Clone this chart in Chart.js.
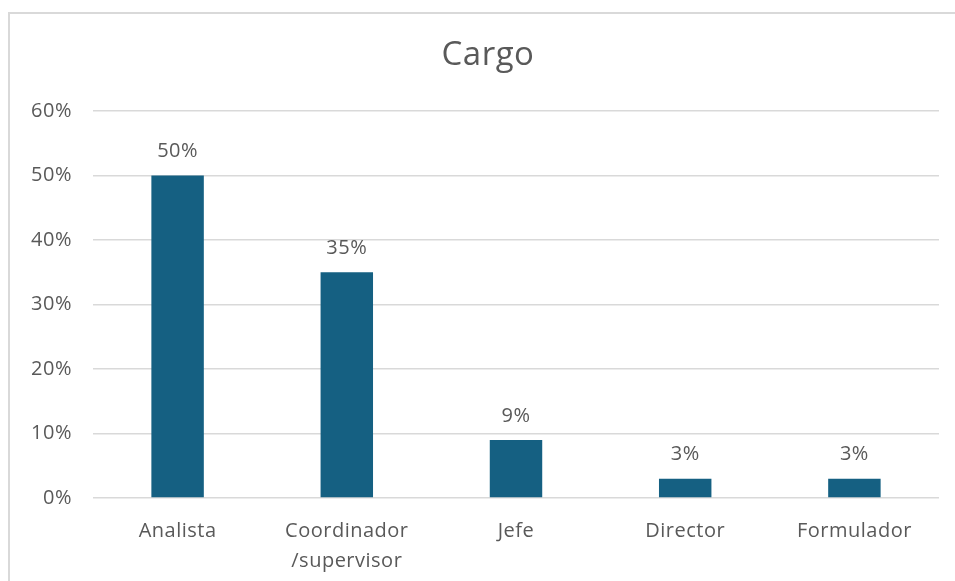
<!DOCTYPE html>
<html lang="es">
<head>
<meta charset="utf-8">
<title>Cargo</title>
<script src="https://cdn.jsdelivr.net/npm/chart.js@4/dist/chart.umd.min.js"></script>
<style>
  html, body { margin: 0; padding: 0; background: #ffffff; }
  body { width: 955px; height: 581px; position: relative; overflow: hidden; }
  .frame {
    position: absolute; left: 8px; top: 12px;
    width: 1000px; height: 620px;
    border: 2px solid #d9d9d9; box-sizing: border-box;
  }
  #chart { position: absolute; left: 0; top: 0; }
</style>
</head>
<body>
<div class="frame"></div>
<canvas id="chart" width="955" height="581"></canvas>
<script>
// Distribución por cargo (porcentaje de encuestados)
const categories = ['Analista', ['Coordinador', '/supervisor'], 'Jefe', 'Director', 'Formulador'];
const shares = [50, 35, 9, 3, 3];
const yTicks = [0, 10, 20, 30, 40, 50, 60];
const chartTitle = 'Cargo';

const TEXT = '#595959';
const GRID = '#d9d9d9';
const BAR = '#156082';
const FONT = '"Open Sans", "Liberation Sans", sans-serif';

// Espaciado de letras algo más abierto para todos los textos
const spacing = {
  id: 'spacing',
  beforeLayout(chart) { chart.ctx.letterSpacing = '0.5px'; },
  beforeDraw(chart) { chart.ctx.letterSpacing = '0.5px'; }
};

// Título centrado sobre el marco completo del gráfico
const frameTitle = {
  id: 'frameTitle',
  afterDraw(chart) {
    const ctx = chart.ctx;
    ctx.save();
    ctx.font = '33px ' + FONT;
    ctx.fillStyle = TEXT;
    ctx.textAlign = 'center';
    ctx.textBaseline = 'middle';
    ctx.fillText(chartTitle, 488, 56);
    ctx.restore();
  }
};

// Etiqueta de valor encima de cada barra
const valueLabels = {
  id: 'valueLabels',
  afterDatasetsDraw(chart) {
    const ctx = chart.ctx;
    const meta = chart.getDatasetMeta(0);
    ctx.save();
    ctx.font = '20px ' + FONT;
    ctx.fillStyle = TEXT;
    ctx.textAlign = 'center';
    ctx.textBaseline = 'middle';
    meta.data.forEach((bar, i) => {
      ctx.fillText(shares[i] + '%', bar.x, bar.y - 24);
    });
    ctx.restore();
  }
};

new Chart(document.getElementById('chart'), {
  type: 'bar',
  data: {
    labels: categories,
    datasets: [{
      data: shares,
      backgroundColor: BAR,
      borderWidth: 0,
      barPercentage: 0.31,
      categoryPercentage: 1.0
    }]
  },
  options: {
    responsive: false,
    animation: false,
    layout: { padding: { left: 0, right: 16, top: 111, bottom: 0 } },
    plugins: {
      legend: { display: false },
      tooltip: { enabled: false },
      title: { display: false }
    },
    scales: {
      x: {
        grid: { display: false, drawTicks: false },
        border: { display: false },
        ticks: {
          color: TEXT,
          font: { family: FONT, size: 20, lineHeight: 1.5 },
          padding: 18,
          maxRotation: 0,
          autoSkip: false
        },
        afterFit(scale) { scale.height = 83; }
      },
      y: {
        min: 0,
        max: 60,
        afterBuildTicks(scale) { scale.ticks = yTicks.map(v => ({ value: v })); },
        grid: { color: GRID, lineWidth: 1.5, drawTicks: false },
        border: { display: false },
        ticks: {
          color: TEXT,
          font: { family: FONT, size: 20 },
          padding: 21,
          callback: v => v + '%'
        },
        afterFit(scale) { scale.width = 93; }
      }
    }
  },
  plugins: [spacing, frameTitle, valueLabels]
});
</script>
</body>
</html>
